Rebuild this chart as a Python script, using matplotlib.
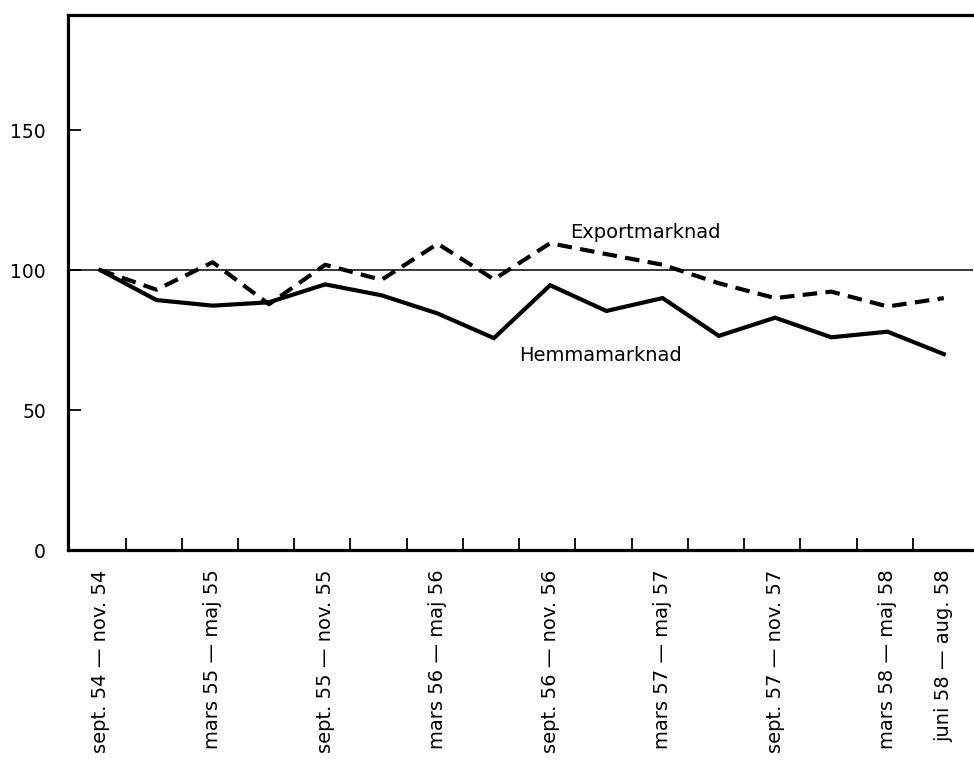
import matplotlib.pyplot as plt

# quarterly periods, sept. 54 - aug. 58
periods = list(range(16))
hemma = [100, 89.3, 87.3, 88.5, 94.9, 91, 84.5, 75.7, 94.6, 85.4, 90, 76.5, 83, 76, 78, 70]
export = [100, 93, 102.8, 87.8, 101.9, 96.5, 109.4, 96.7, 109.6, 105.7, 101.9, 95.3, 90, 92.3, 87, 90]

label_pos = [0, 2, 4, 6, 8, 10, 12, 14, 15]
labels = ["sept. 54 \u2014 nov. 54", "mars 55 \u2014 maj 55", "sept. 55 \u2014 nov. 55",
          "mars 56 \u2014 maj 56", "sept. 56 \u2014 nov. 56", "mars 57 \u2014 maj 57",
          "sept. 57 \u2014 nov. 57", "mars 58 \u2014 maj 58", "juni 58 \u2014 aug. 58"]
yticks = [0, 50, 100, 150]

fig = plt.figure(figsize=(9.74, 7.63), dpi=100)
ax = fig.add_axes([0.07, 0.279, 0.929, 0.701])

ax.axhline(100, color='black', lw=1.1)
ax.plot(periods, hemma, color='black', lw=3, solid_joinstyle='miter')
ax.plot(periods, export, color='black', lw=3, linestyle=(0, (3.5, 2)))

ax.text(8.35, 113.5, 'Exportmarknad', fontsize=14, ha='left', va='center')
ax.text(7.45, 69.5, 'Hemmamarknad', fontsize=14, ha='left', va='center')

ax.set_xlim(-0.57, 15.52)
ax.set_ylim(0, 191)

# tick marks between periods, labels under the periods
ax.set_xticks([p + 0.45 for p in periods[:-1]])
ax.set_xticklabels([])
ax.set_xticks(label_pos, minor=True)
ax.set_xticklabels(labels, minor=True, rotation=90, fontsize=14, va='top')
ax.tick_params(axis='x', which='major', direction='in', length=9, width=1.3)
ax.tick_params(axis='x', which='minor', length=0, pad=14)

ax.set_yticks(yticks)
ax.set_yticklabels([str(v) for v in yticks], fontsize=13.5)
ax.tick_params(axis='y', direction='in', length=9, width=1.3, pad=16)

for side in ['left', 'bottom', 'top']:
    ax.spines[side].set_linewidth(2.3)
ax.spines['right'].set_visible(False)

plt.savefig('out.png', dpi=100)
